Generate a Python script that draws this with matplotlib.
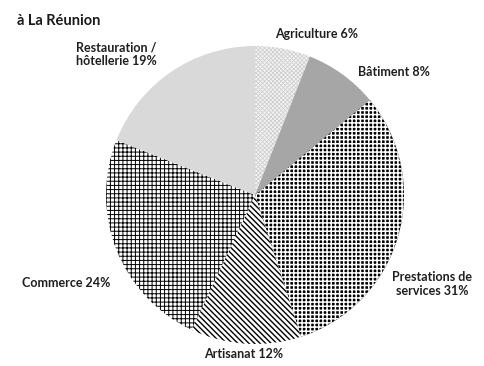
import matplotlib
matplotlib.use('Agg')
import matplotlib.pyplot as plt

# data
sectors = ['Agriculture', 'Bâtiment', 'Prestations de\nservices', 'Artisanat', 'Commerce', 'Restauration /\nhôtellerie']
shares = [6, 8, 31, 12, 24, 19]

# styles (face, hatch colour, hatch, hatch linewidth)
faces = ['#f4f4f4', '#a6a6a6', '#000000', '#ffffff', '#ffffff', '#d9d9d9']
hcolors = ['#cfcfcf', '#a6a6a6', '#ffffff', '#000000', '#000000', '#d9d9d9']
hatches = ['xxxxxxxx', None, '++++', '\\\\\\\\\\\\', '++++', None]
hwidths = [0.6, 1.0, 1.1, 1.0, 0.7, 1.0]

# label centres in pixels (x, y from top-left)
label_px = [(317, 34), (394, 72), (432, 284), (244, 354), (66, 283), (116, 54)]

W, H = 484, 366
cx, cy, R = 255, 195, 149

plt.rcParams['font.family'] = ['Lato', 'DejaVu Sans']

fig = plt.figure(figsize=(W / 100, H / 100), dpi=100)
ax = fig.add_axes([0, 0, 1, 1])

wedges, _ = ax.pie(shares, startangle=90, counterclock=False, radius=1,
                   wedgeprops=dict(linewidth=0))
for w, fc, hc, h, hw in zip(wedges, faces, hcolors, hatches, hwidths):
    w.set_facecolor(fc)
    w.set_edgecolor(hc)
    w.set_linewidth(0)
    if h:
        w.set_hatch(h)
        if hasattr(w, 'set_hatch_linewidth'):
            w.set_hatch_linewidth(hw)

ax.set_xlim(-cx / R, (W - cx) / R)
ax.set_ylim(-(H - cy) / R, cy / R)
ax.set_aspect('auto')
ax.axis('off')

def px(x, y):
    return (x - cx) / R, (cy - y) / R

for name, val, (x, y) in zip(sectors, shares, label_px):
    ax.text(*px(x, y), f'{name} {val}%', ha='center', va='center',
            fontsize=9, fontweight='bold', color='#1f1f1f', linespacing=1.15)

fig.text(17 / W, 1 - 21 / H, 'à La Réunion', ha='left', va='center',
         fontsize=10.5, fontweight='bold', color='#1a1a1a')

fig.savefig('out.png', dpi=100)
